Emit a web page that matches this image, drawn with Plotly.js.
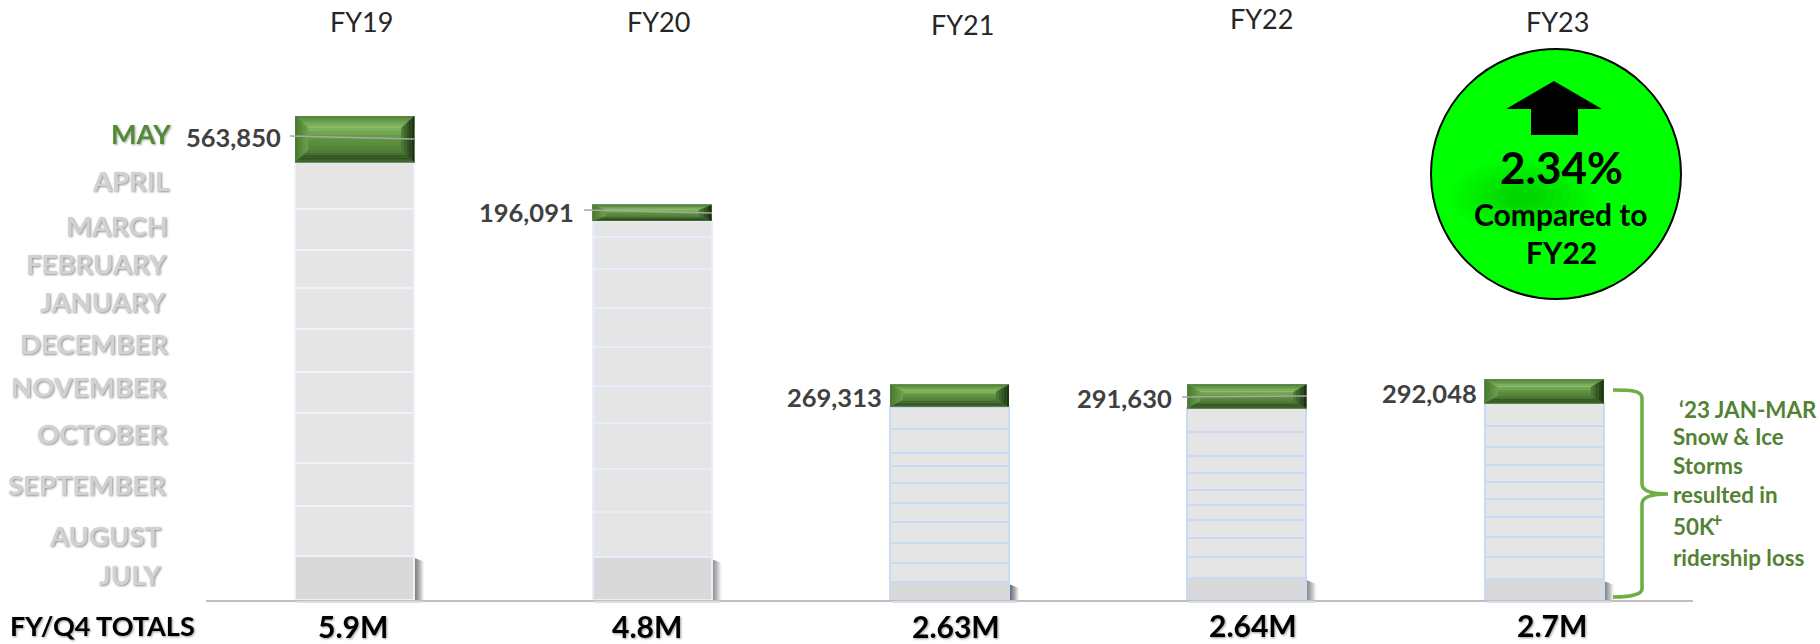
<!DOCTYPE html>
<html>
<head>
<meta charset="utf-8">
<script src="https://cdn.plot.ly/plotly-3.0.1.min.js"></script>
<style>html,body{margin:0;padding:0;background:#fff}#chart{width:1820px;height:644px}</style>
</head>
<body>
<div id="chart"></div>
<script>
// ---------- DATA ----------
const fiscalYears = ['FY19','FY20','FY21','FY22','FY23'];
const totalsText  = ['5.9M','4.8M','2.63M','2.64M','2.7M'];
const months = ['JULY','AUGUST','SEPTEMBER','OCTOBER','NOVEMBER','DECEMBER','JANUARY','FEBRUARY','MARCH','APRIL','MAY'];
const july      = [539000,523000,217000,266000,254000];
const august    = [612500,559000,240000,257000,270000];
const september = [523000,519000,245000,233000,252000];
const october   = [612500,564000,257000,224000,236000];
const november  = [510000,457000,233000,187000,224000];
const december  = [519000,481000,238000,176000,205000];
const january   = [506000,478000,212000,212000,212000];
const february  = [465000,474000,163000,212000,217000];
const march     = [506000,396000,287000,294000,265000];
const april     = [572000,192000,277000,287000,274000];
const may       = [563850,196091,269313,291630,292048];
const monthly = [july,august,september,october,november,december,january,february,march,april,may];
const noteLines = ['\u201823 JAN-MAR','Snow & Ice','Storms','resulted in','50K','ridership loss'];
const calloutPct = '2.34%';
const calloutLines = ['Compared to','FY22'];
const rowLabel = 'FY/Q4 TOTALS';

// ---------- LAYOUT GEOMETRY ----------
const W=1820,H=644,L=206,R=127,B=44,plotH=H-B,plotW=W-L-R;
const valPerPx=12250, pxPerCat=plotW/5;
const X=p=>(p-L)/plotW, Y=p=>1-p/plotH;
const FONT='Lato, Carlito, "Open Sans", sans-serif';

// ---------- TRACES ----------
const barBorders=['#edf3fc','#e6eefb','#c9daf6','#c9daf6','#c9daf6'];
const traces = months.map((m,k)=>({
  type:'bar',name:m,x:fiscalYears,y:monthly[k],
  marker:{
    color:k===10?'#5b8e3e':(k===0?'#d9d9d9':'#e5e5e5'),
    line:{color:k===10?'#6f8f62':barBorders,width:k===10?1:2}
  },
  hoverinfo:'skip'
}));

// ---------- SHAPES ----------
const shapes=[];
const hex=c=>[1,3,5].map(i=>parseInt(c.substr(i,2),16));
const mix=(a,b,t)=>{const A=hex(a),B2=hex(b);return 'rgb('+A.map((v,i)=>Math.round(v+(B2[i]-v)*t)).join(',')+')';};
function ramp(stops,t){
  for(let i=1;i<stops.length;i++){
    if(t<=stops[i][0]){const s=stops[i-1],e=stops[i];return mix(s[1],e[1],(t-s[0])/(e[0]-s[0]));}
  }
  return stops[stops.length-1][1];
}
function poly(pts,color,layer,op){
  const d=pts.map((p,i)=>(i?'L':'M')+p[0]+' '+p[1]).join(' ')+' Z';
  shapes.push({type:'path',xref:'x',yref:'y',path:d,fillcolor:color,line:{width:0},layer:layer||'above',opacity:op===undefined?1:op});
}
const topGrad=[[0,'#4f8034'],[1,'#8fc26e']];
const faceGrad=[[0,'#83b762'],[.5,'#5f9341'],[1,'#508236']];
const botGrad=[[0,'#456f30'],[.35,'#2f4c21'],[1,'#56853c']];
const leftGrad=[[0,'#47762e'],[1,'#6ea24e']];
const rightGrad=[[0,'#172810'],[1,'#4f7f38']];
fiscalYears.forEach((fy,i)=>{
  const x0=i-.2,x1=i+.2;
  const base=monthly.slice(0,10).reduce((s,a)=>s+a[i],0);
  const top=base+may[i];
  const hPx=may[i]/valPerPx;
  const dx=13/pxPerCat, dy=Math.min(12,hPx*.32)*valPerPx;
  const N=5;
  for(let n=0;n<N;n++){
    const a=n/N,b=(n+1)/N,c=(n+.5)/N;
    poly([[x0+dx*a,top-dy*a],[x1-dx*a,top-dy*a],[x1-dx*b,top-dy*b],[x0+dx*b,top-dy*b]],ramp(topGrad,c));
    poly([[x0+dx*a,base+dy*a],[x1-dx*a,base+dy*a],[x1-dx*b,base+dy*b],[x0+dx*b,base+dy*b]],ramp(botGrad,c));
    poly([[x0+dx*a,base+dy*a],[x0+dx*a,top-dy*a],[x0+dx*b,top-dy*b],[x0+dx*b,base+dy*b]],ramp(leftGrad,c));
    poly([[x1-dx*a,base+dy*a],[x1-dx*a,top-dy*a],[x1-dx*b,top-dy*b],[x1-dx*b,base+dy*b]],ramp(rightGrad,c));
  }
  const F=6, fy0=base+dy, fy1=top-dy;
  for(let n=0;n<F;n++){
    const a=fy1-(fy1-fy0)*n/F,b=fy1-(fy1-fy0)*(n+1)/F;
    poly([[x0+dx,a],[x1-dx,a],[x1-dx,b],[x0+dx,b]],ramp(faceGrad,(n+.5)/F));
  }
  // July drop shadow to the right of the bar
  const sh=10;
  for(let n=0;n<sh;n++){
    const a=x1+n/pxPerCat,b=x1+(n+1)/pxPerCat,tp=july[i]-(n*.4+2)*valPerPx;
    poly([[a,0],[a,tp],[b,tp],[b,0]],mix('#666666','#ffffff',Math.pow((n+.5)/sh,1.4)),'below');
  }
});

const pp=(x,y)=>X(x)+' '+Y(y);
function paperPath(d,opts){shapes.push(Object.assign({type:'path',xref:'paper',yref:'paper',path:d,layer:'above'},opts));}
function paperLine(x0,y0,x1,y1,color,w){shapes.push({type:'line',xref:'paper',yref:'paper',x0:X(x0),y0:Y(y0),x1:X(x1),y1:Y(y1),line:{color:color,width:w},layer:'above'});}

// soft shadow under each bar on the baseline
fiscalYears.forEach((fy,i)=>{
  const c=L+(i+.5)*pxPerCat;
  paperLine(c-58,602,c+68,602,'#dcdcdc',2);
});

// leader lines
paperLine(290,136,414,139,'#a6a6a6',1.6);
paperLine(584,210,712,213,'#a6a6a6',1.6);
paperLine(1182,397,1307,396,'#a6a6a6',1.6);

// callout circle
const circ=(cx,cy,rx,ry,fill,line)=>({type:'circle',xref:'paper',yref:'paper',x0:X(cx-rx),x1:X(cx+rx),y0:Y(cy+ry),y1:Y(cy-ry),fillcolor:fill,line:line,layer:'above'});
shapes.push(circ(1556,174,125,125,'#00ff00',{color:'#000000',width:2}));
[[72,38],[64,34],[56,30],[48,26],[40,22],[32,18],[24,14],[16,10]].forEach(r=>shapes.push(circ(1523,197,r[0],r[1],'rgba(0,0,0,0.018)',{width:0})));
paperPath('M'+pp(1554,81)+' L'+pp(1506,109)+' L'+pp(1531,109)+' L'+pp(1531,135)+' L'+pp(1578,135)+' L'+pp(1578,109)+' L'+pp(1602,109)+' Z',{fillcolor:'#000000',line:{width:0}});

// brace
paperPath('M'+pp(1613,390)+' C'+pp(1628,390)+' '+pp(1642,390)+' '+pp(1642,398)+' L'+pp(1642,484)+' Q'+pp(1642,494)+' '+pp(1668,494)+' Q'+pp(1642,494)+' '+pp(1642,504)+' L'+pp(1642,589)+' C'+pp(1642,595)+' '+pp(1628,597)+' '+pp(1613,597),
  {line:{color:'#70ad47',width:3.6},fillcolor:'rgba(0,0,0,0)'});

// ---------- ANNOTATIONS ----------
const ann=[];
function T(text,x,y,size,color,anchor,weight,name){
  ann.push({text:text,xref:'paper',yref:'paper',x:X(x),y:Y(y),xanchor:anchor,yanchor:'middle',showarrow:false,
    font:{family:FONT,size:size,color:color,weight:weight||700},align:anchor,borderpad:0,name:name||''});
}
const monthPos=[[162,574],[162,535.5],[167,484.5],[168,433.5],[168,386],[169,343],[167,301],[168,264],[169,225],[170,180],[172,133.5]];
months.forEach((m,k)=>T(m,monthPos[k][0],monthPos[k][1],k===10?27:27.5,k===10?'#548a35':'#d2d2d2','right',700,k===10?'sh-may':'sh-month'));
T(rowLabel,9,626,27,'#000000','left',700,'sh-black');
const totalPos=[[353,626],[647,626],[956,626],[1253,625],[1552,625]];
totalsText.forEach((t,i)=>T(t,totalPos[i][0],totalPos[i][1],30,'#000000','center',700,'sh-black'));
const fyPos=[[361,21],[658,21],[962,24],[1261,19],[1557,21]];
fiscalYears.forEach((t,i)=>T(t,fyPos[i][0],fyPos[i][1],27,'#262626','center',400));
const labelPos=[[282,137],[575,212],[883,397],[1173,398],[1478,393]];
may.forEach((v,i)=>T(v.toLocaleString('en-US'),labelPos[i][0],labelPos[i][1],25.5,'#404040','right',700));
T(calloutPct,1561,167,44,'#000000','center',700);
T(calloutLines[0],1561,214.5,30,'#000000','center',700);
T(calloutLines[1],1561,252,30,'#000000','center',700);
const notePos=[[1678,409],[1672,436],[1672,465],[1672,494],[1672,526],[1672,557]];
noteLines.forEach((t,i)=>T(t,notePos[i][0],notePos[i][1],22.4,'#548235','left',700));
T('+',1711,520,18,'#548235','left',700);

const layout={
  width:W,height:H,paper_bgcolor:'#fff',plot_bgcolor:'#fff',showlegend:false,
  margin:{l:L,r:R,t:0,b:B,pad:0,autoexpand:false},
  barmode:'stack',bargap:.6,
  xaxis:{type:'category',categoryorder:'array',categoryarray:fiscalYears,range:[-.5,4.5],showticklabels:false,ticks:'',showgrid:false,zeroline:false,showline:true,linecolor:'#bfbfbf',linewidth:2,fixedrange:true},
  yaxis:{range:[0,plotH*valPerPx],visible:false,showgrid:false,zeroline:false,fixedrange:true},
  shapes:shapes,annotations:ann
};
Plotly.newPlot('chart',traces,layout,{displayModeBar:false,staticPlot:true}).then(gd=>{
  const filt={'sh-month':'drop-shadow(1px 1.5px 1px #8f8f8f)','sh-may':'drop-shadow(1px 1px 1px #a0a0a0)','sh-black':'drop-shadow(1px 1px 1px #9a9a9a)'};
  gd.querySelectorAll('g.annotation').forEach(g=>{
    const a=ann[+g.getAttribute('data-index')];
    if(a&&filt[a.name]) g.style.filter=filt[a.name];
  });
});
</script>
</body>
</html>
